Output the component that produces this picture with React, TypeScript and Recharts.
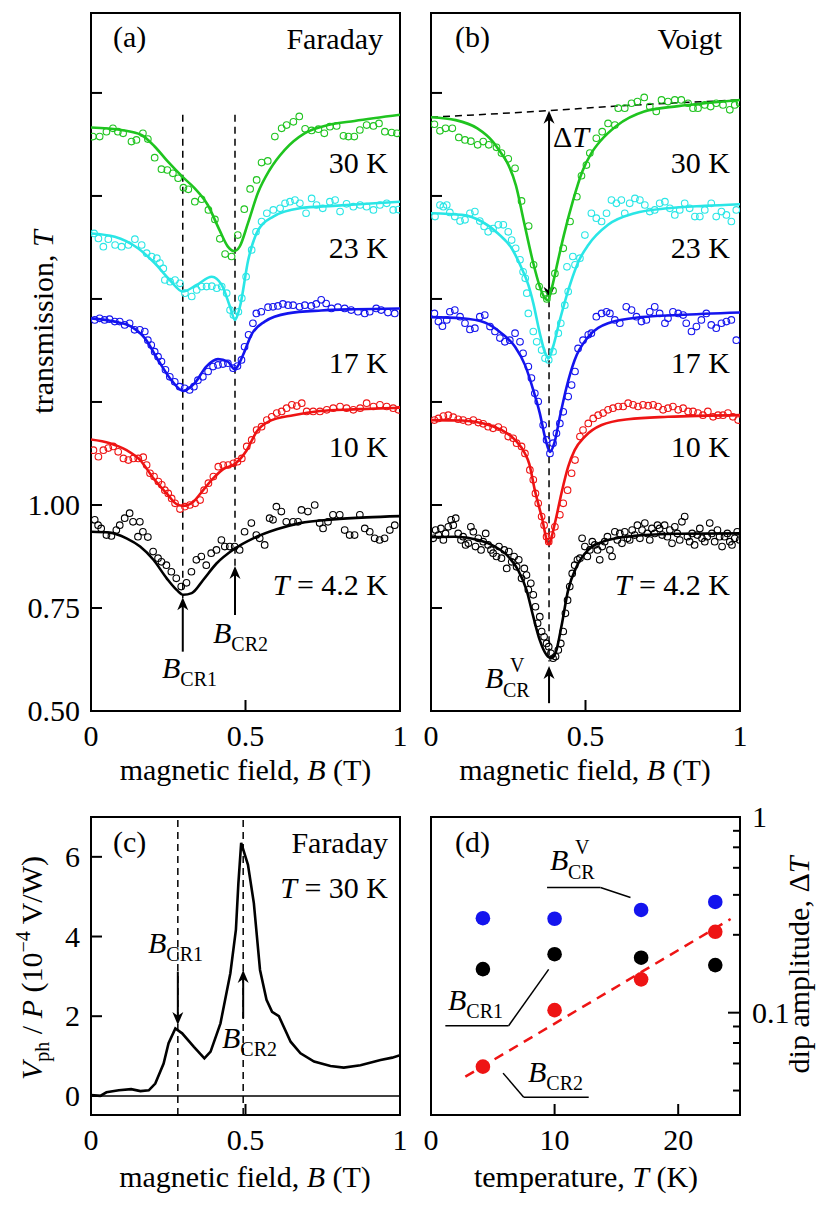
import React from "react";
import { ComposedChart, Scatter, Line, XAxis, YAxis, ReferenceLine, ReferenceArea } from "recharts";

// ---------- data: [B (T), transmission] ----------
const faraday30 = [[0.006,1.894],[0.028,1.894],[0.05,1.906],[0.071,1.914],[0.087,1.906],[0.104,1.902],[0.131,1.882],[0.147,1.886],[0.168,1.902],[0.184,1.888],[0.206,1.843],[0.228,1.815],[0.247,1.813],[0.265,1.805],[0.282,1.793],[0.299,1.77],[0.315,1.766],[0.336,1.736],[0.358,1.742],[0.38,1.716],[0.401,1.693],[0.417,1.646],[0.434,1.609],[0.455,1.603],[0.475,1.655],[0.496,1.718],[0.515,1.767],[0.536,1.789],[0.552,1.831],[0.572,1.835],[0.595,1.894],[0.617,1.914],[0.633,1.922],[0.655,1.93],[0.674,1.943],[0.693,1.913],[0.714,1.909],[0.736,1.912],[0.755,1.902],[0.773,1.918],[0.795,1.92],[0.817,1.896],[0.833,1.894],[0.852,1.894],[0.87,1.91],[0.892,1.922],[0.914,1.92],[0.932,1.926],[0.951,1.906],[0.973,1.904],[0.99,1.902]];
const faraday30Fit = [[0,1.916],[0.098,1.91],[0.163,1.898],[0.206,1.87],[0.249,1.833],[0.298,1.795],[0.335,1.769],[0.378,1.728],[0.416,1.667],[0.443,1.627],[0.463,1.616],[0.481,1.627],[0.508,1.684],[0.54,1.757],[0.578,1.813],[0.627,1.862],[0.691,1.902],[0.767,1.922],[0.853,1.932],[1,1.947]];
const faraday23 = [[0.01,1.659],[0.024,1.647],[0.04,1.627],[0.056,1.645],[0.078,1.631],[0.099,1.627],[0.121,1.631],[0.142,1.645],[0.164,1.631],[0.18,1.611],[0.196,1.603],[0.213,1.599],[0.223,1.587],[0.234,1.574],[0.239,1.546],[0.256,1.542],[0.272,1.546],[0.288,1.538],[0.304,1.514],[0.326,1.506],[0.342,1.522],[0.358,1.53],[0.374,1.53],[0.391,1.531],[0.407,1.526],[0.423,1.53],[0.439,1.514],[0.45,1.473],[0.461,1.461],[0.477,1.469],[0.488,1.502],[0.502,1.554],[0.52,1.619],[0.534,1.663],[0.552,1.688],[0.569,1.708],[0.59,1.716],[0.612,1.72],[0.628,1.732],[0.644,1.736],[0.66,1.74],[0.676,1.732],[0.696,1.708],[0.714,1.744],[0.73,1.728],[0.75,1.72],[0.773,1.736],[0.79,1.74],[0.806,1.712],[0.827,1.731],[0.849,1.724],[0.871,1.728],[0.892,1.724],[0.914,1.716],[0.935,1.728],[0.957,1.732],[0.978,1.716],[0.995,1.717]];
const faraday23Fit = [[0,1.659],[0.077,1.651],[0.152,1.623],[0.206,1.587],[0.255,1.546],[0.297,1.518],[0.342,1.534],[0.391,1.554],[0.423,1.534],[0.45,1.481],[0.466,1.449],[0.482,1.481],[0.509,1.595],[0.541,1.667],[0.59,1.7],[0.676,1.72],[0.784,1.726],[0.892,1.731],[1,1.736]];
const faraday17 = [[0.012,1.449],[0.028,1.453],[0.044,1.449],[0.06,1.451],[0.077,1.445],[0.093,1.445],[0.109,1.437],[0.125,1.441],[0.141,1.425],[0.158,1.425],[0.174,1.421],[0.184,1.4],[0.195,1.388],[0.206,1.372],[0.217,1.36],[0.228,1.348],[0.241,1.328],[0.255,1.311],[0.271,1.299],[0.287,1.287],[0.303,1.283],[0.319,1.279],[0.333,1.287],[0.346,1.303],[0.362,1.311],[0.379,1.324],[0.395,1.336],[0.411,1.34],[0.427,1.342],[0.443,1.344],[0.46,1.332],[0.474,1.337],[0.487,1.352],[0.497,1.384],[0.51,1.413],[0.524,1.441],[0.535,1.465],[0.551,1.469],[0.573,1.48],[0.589,1.481],[0.605,1.483],[0.621,1.488],[0.638,1.485],[0.654,1.485],[0.675,1.481],[0.692,1.485],[0.713,1.483],[0.729,1.488],[0.745,1.498],[0.761,1.489],[0.778,1.477],[0.799,1.48],[0.821,1.477],[0.842,1.473],[0.864,1.469],[0.886,1.465],[0.902,1.469],[0.923,1.477],[0.939,1.473],[0.961,1.467],[0.983,1.465]];
const faraday17Fit = [[0,1.453],[0.077,1.445],[0.13,1.433],[0.174,1.405],[0.217,1.352],[0.26,1.303],[0.298,1.277],[0.335,1.295],[0.373,1.336],[0.411,1.354],[0.443,1.348],[0.465,1.329],[0.492,1.364],[0.519,1.413],[0.562,1.445],[0.637,1.465],[0.745,1.472],[0.853,1.475],[1,1.477]];
const faraday10 = [[0.008,1.133],[0.024,1.117],[0.04,1.133],[0.056,1.138],[0.072,1.142],[0.088,1.129],[0.105,1.113],[0.121,1.109],[0.137,1.113],[0.153,1.113],[0.169,1.116],[0.18,1.097],[0.191,1.077],[0.204,1.069],[0.218,1.057],[0.229,1.049],[0.239,1.036],[0.25,1.028],[0.261,1.016],[0.272,1.004],[0.288,0.99],[0.304,0.996],[0.32,1],[0.337,1.004],[0.353,1.012],[0.366,1.036],[0.38,1.053],[0.396,1.069],[0.412,1.093],[0.428,1.097],[0.444,1.097],[0.461,1.101],[0.474,1.105],[0.488,1.113],[0.504,1.142],[0.52,1.158],[0.536,1.182],[0.552,1.19],[0.569,1.206],[0.585,1.214],[0.601,1.223],[0.617,1.227],[0.633,1.235],[0.65,1.243],[0.666,1.24],[0.682,1.247],[0.698,1.227],[0.719,1.227],[0.741,1.227],[0.763,1.231],[0.784,1.235],[0.806,1.239],[0.827,1.235],[0.849,1.231],[0.871,1.235],[0.892,1.247],[0.914,1.239],[0.935,1.243],[0.957,1.239],[0.978,1.235],[0.995,1.231]];
const faraday10Fit = [[0,1.159],[0.061,1.15],[0.115,1.133],[0.159,1.109],[0.202,1.065],[0.245,1.028],[0.277,1.002],[0.299,0.998],[0.331,1.008],[0.363,1.036],[0.396,1.065],[0.428,1.087],[0.466,1.1],[0.504,1.133],[0.536,1.178],[0.579,1.204],[0.655,1.218],[0.741,1.228],[0.849,1.232],[1,1.236]];
const faraday4 = [[0.012,0.964],[0.023,0.951],[0.033,0.943],[0.05,0.927],[0.066,0.925],[0.082,0.939],[0.093,0.951],[0.109,0.968],[0.125,0.98],[0.136,0.959],[0.152,0.923],[0.158,0.959],[0.168,0.935],[0.184,0.922],[0.201,0.887],[0.217,0.871],[0.228,0.862],[0.244,0.854],[0.26,0.838],[0.276,0.822],[0.292,0.802],[0.309,0.811],[0.325,0.838],[0.341,0.867],[0.357,0.875],[0.373,0.854],[0.389,0.883],[0.406,0.891],[0.422,0.915],[0.433,0.899],[0.449,0.899],[0.465,0.899],[0.481,0.891],[0.497,0.935],[0.519,0.956],[0.535,0.927],[0.546,0.919],[0.562,0.903],[0.578,0.968],[0.589,0.964],[0.6,0.996],[0.616,0.984],[0.632,0.959],[0.654,0.959],[0.67,0.959],[0.681,0.988],[0.702,0.984],[0.724,1],[0.74,0.956],[0.751,0.943],[0.767,0.959],[0.783,0.976],[0.805,0.976],[0.821,0.939],[0.837,0.927],[0.853,0.927],[0.87,0.976],[0.886,0.943],[0.902,0.935],[0.918,0.919],[0.934,0.915],[0.95,0.919],[0.967,0.939],[0.983,0.951]];
const faraday4Fit = [[0,0.935],[0.061,0.933],[0.115,0.919],[0.159,0.899],[0.202,0.867],[0.245,0.822],[0.277,0.794],[0.299,0.782],[0.326,0.786],[0.363,0.818],[0.406,0.858],[0.461,0.892],[0.525,0.919],[0.601,0.941],[0.676,0.956],[0.784,0.965],[0.892,0.97],[1,0.973]];

const voigt30 = [[0.011,1.924],[0.029,1.908],[0.047,1.914],[0.069,1.914],[0.09,1.892],[0.11,1.886],[0.129,1.883],[0.151,1.874],[0.169,1.882],[0.187,1.874],[0.212,1.868],[0.228,1.854],[0.25,1.84],[0.272,1.817],[0.293,1.738],[0.316,1.677],[0.332,1.583],[0.35,1.53],[0.365,1.51],[0.375,1.5],[0.395,1.52],[0.401,1.562],[0.428,1.623],[0.45,1.688],[0.472,1.748],[0.487,1.799],[0.503,1.825],[0.514,1.854],[0.535,1.89],[0.554,1.906],[0.573,1.926],[0.595,1.922],[0.606,1.963],[0.627,1.963],[0.649,1.975],[0.668,1.979],[0.69,1.989],[0.708,1.967],[0.729,1.955],[0.746,1.983],[0.767,1.979],[0.789,1.983],[0.81,1.983],[0.832,1.975],[0.848,1.963],[0.864,1.963],[0.886,1.971],[0.905,1.967],[0.923,1.975],[0.945,1.971],[0.967,1.959],[0.983,1.971],[0.999,1.975]];
const voigt30Fit = [[0,1.941],[0.08,1.934],[0.15,1.914],[0.2,1.882],[0.225,1.856],[0.25,1.826],[0.275,1.775],[0.3,1.69],[0.33,1.59],[0.35,1.535],[0.366,1.505],[0.378,1.497],[0.392,1.53],[0.41,1.59],[0.43,1.655],[0.46,1.74],[0.49,1.81],[0.52,1.855],[0.55,1.885],[0.6,1.92],[0.69,1.955],[0.8,1.968],[0.9,1.976],[1,1.983]];
const voigtBaseline = [[0,1.941],[0.38,1.957],[0.6,1.968],[1,1.983]];
const voigt23 = [[0.013,1.7],[0.029,1.728],[0.04,1.724],[0.051,1.728],[0.061,1.71],[0.077,1.7],[0.094,1.689],[0.11,1.692],[0.126,1.708],[0.142,1.712],[0.158,1.689],[0.172,1.676],[0.185,1.663],[0.201,1.671],[0.218,1.68],[0.234,1.68],[0.25,1.663],[0.261,1.643],[0.274,1.623],[0.288,1.595],[0.298,1.566],[0.305,1.55],[0.31,1.514],[0.315,1.465],[0.331,1.421],[0.342,1.396],[0.358,1.376],[0.369,1.356],[0.381,1.352],[0.395,1.372],[0.412,1.417],[0.42,1.441],[0.433,1.485],[0.444,1.518],[0.44,1.578],[0.459,1.603],[0.466,1.583],[0.482,1.599],[0.498,1.655],[0.519,1.708],[0.535,1.696],[0.552,1.688],[0.568,1.708],[0.584,1.74],[0.6,1.732],[0.616,1.74],[0.627,1.708],[0.643,1.732],[0.66,1.744],[0.676,1.74],[0.692,1.728],[0.708,1.712],[0.724,1.716],[0.74,1.732],[0.757,1.736],[0.773,1.72],[0.789,1.704],[0.805,1.716],[0.821,1.732],[0.837,1.72],[0.854,1.7],[0.87,1.7],[0.886,1.716],[0.907,1.732],[0.923,1.7],[0.94,1.712],[0.956,1.704],[0.972,1.688],[0.988,1.716]];
const voigt23Fit = [[0,1.708],[0.1,1.704],[0.164,1.688],[0.217,1.659],[0.261,1.623],[0.293,1.575],[0.315,1.534],[0.331,1.49],[0.352,1.417],[0.368,1.372],[0.381,1.356],[0.395,1.384],[0.417,1.449],[0.45,1.535],[0.48,1.595],[0.509,1.631],[0.573,1.68],[0.659,1.708],[0.767,1.72],[0.886,1.726],[1,1.73]];
const voigt17 = [[0.011,1.465],[0.024,1.445],[0.037,1.434],[0.051,1.449],[0.061,1.469],[0.077,1.473],[0.094,1.457],[0.11,1.441],[0.126,1.426],[0.142,1.429],[0.158,1.457],[0.174,1.461],[0.191,1.433],[0.207,1.421],[0.223,1.405],[0.239,1.396],[0.255,1.4],[0.272,1.417],[0.288,1.396],[0.298,1.368],[0.315,1.336],[0.325,1.308],[0.336,1.271],[0.347,1.251],[0.363,1.194],[0.374,1.158],[0.385,1.125],[0.395,1.15],[0.406,1.174],[0.417,1.198],[0.428,1.226],[0.444,1.263],[0.455,1.291],[0.466,1.324],[0.476,1.38],[0.492,1.4],[0.509,1.413],[0.519,1.417],[0.535,1.457],[0.552,1.465],[0.568,1.469],[0.579,1.465],[0.595,1.449],[0.611,1.441],[0.632,1.481],[0.649,1.473],[0.665,1.457],[0.681,1.445],[0.697,1.449],[0.708,1.469],[0.724,1.481],[0.74,1.465],[0.757,1.441],[0.767,1.453],[0.783,1.469],[0.8,1.465],[0.816,1.461],[0.826,1.441],[0.843,1.421],[0.859,1.433],[0.875,1.449],[0.891,1.465],[0.907,1.437],[0.923,1.429],[0.94,1.441],[0.956,1.445],[0.972,1.449],[0.988,1.4]];
const voigt17Fit = [[0,1.456],[0.1,1.453],[0.174,1.443],[0.228,1.417],[0.272,1.384],[0.304,1.34],[0.331,1.279],[0.352,1.223],[0.371,1.158],[0.385,1.129],[0.399,1.15],[0.417,1.214],[0.439,1.287],[0.465,1.352],[0.509,1.408],[0.573,1.441],[0.681,1.456],[0.8,1.461],[1,1.467]];
const voigt10 = [[0.011,1.206],[0.024,1.21],[0.04,1.216],[0.056,1.218],[0.072,1.213],[0.088,1.208],[0.104,1.206],[0.121,1.202],[0.137,1.206],[0.153,1.2],[0.169,1.197],[0.185,1.19],[0.201,1.186],[0.218,1.189],[0.234,1.182],[0.25,1.166],[0.266,1.162],[0.277,1.15],[0.293,1.142],[0.304,1.125],[0.32,1.085],[0.331,1.061],[0.338,1.028],[0.347,1.004],[0.358,0.972],[0.366,0.951],[0.374,0.923],[0.381,0.911],[0.39,0.927],[0.401,0.947],[0.417,0.976],[0.428,1.004],[0.442,1.036],[0.455,1.077],[0.466,1.109],[0.482,1.166],[0.492,1.182],[0.509,1.198],[0.525,1.21],[0.541,1.218],[0.557,1.223],[0.573,1.231],[0.589,1.235],[0.606,1.239],[0.622,1.239],[0.638,1.247],[0.654,1.243],[0.67,1.239],[0.686,1.243],[0.703,1.241],[0.719,1.243],[0.735,1.239],[0.751,1.231],[0.767,1.235],[0.783,1.239],[0.8,1.231],[0.816,1.235],[0.832,1.227],[0.848,1.227],[0.864,1.223],[0.88,1.218],[0.896,1.227],[0.913,1.214],[0.929,1.218],[0.945,1.218],[0.961,1.223],[0.977,1.214],[0.994,1.206]];
const voigt10Fit = [[0,1.206],[0.1,1.205],[0.174,1.197],[0.228,1.182],[0.272,1.158],[0.304,1.125],[0.318,1.1],[0.336,1.036],[0.358,0.972],[0.381,0.905],[0.401,0.956],[0.422,1.028],[0.444,1.093],[0.465,1.133],[0.498,1.166],[0.552,1.194],[0.638,1.208],[0.767,1.214],[1,1.218]];
const voigt4 = [[0.007,0.919],[0.015,0.939],[0.024,0.927],[0.032,0.943],[0.04,0.915],[0.047,0.931],[0.056,0.947],[0.065,0.964],[0.072,0.951],[0.08,0.968],[0.088,0.931],[0.097,0.915],[0.104,0.923],[0.112,0.903],[0.121,0.907],[0.129,0.947],[0.137,0.935],[0.144,0.899],[0.153,0.919],[0.162,0.891],[0.169,0.911],[0.177,0.931],[0.185,0.903],[0.194,0.891],[0.201,0.883],[0.212,0.875],[0.22,0.899],[0.228,0.871],[0.237,0.891],[0.245,0.846],[0.252,0.887],[0.261,0.862],[0.269,0.875],[0.277,0.85],[0.284,0.867],[0.293,0.822],[0.302,0.846],[0.309,0.83],[0.315,0.794],[0.323,0.81],[0.331,0.782],[0.338,0.753],[0.345,0.713],[0.352,0.729],[0.358,0.693],[0.366,0.68],[0.374,0.664],[0.381,0.656],[0.388,0.64],[0.395,0.628],[0.403,0.632],[0.412,0.648],[0.42,0.664],[0.428,0.693],[0.435,0.737],[0.442,0.769],[0.449,0.802],[0.457,0.834],[0.465,0.854],[0.474,0.867],[0.482,0.871],[0.489,0.919],[0.498,0.899],[0.506,0.875],[0.514,0.891],[0.522,0.911],[0.53,0.903],[0.539,0.891],[0.546,0.867],[0.554,0.899],[0.562,0.911],[0.571,0.923],[0.579,0.891],[0.586,0.875],[0.595,0.935],[0.603,0.915],[0.611,0.931],[0.618,0.907],[0.627,0.935],[0.636,0.919],[0.643,0.915],[0.651,0.939],[0.659,0.927],[0.668,0.951],[0.676,0.919],[0.683,0.939],[0.692,0.956],[0.7,0.931],[0.708,0.915],[0.715,0.943],[0.724,0.931],[0.733,0.951],[0.74,0.943],[0.748,0.927],[0.756,0.951],[0.765,0.923],[0.773,0.939],[0.78,0.907],[0.789,0.947],[0.797,0.931],[0.805,0.915],[0.812,0.959],[0.821,0.972],[0.83,0.923],[0.837,0.911],[0.845,0.931],[0.853,0.903],[0.862,0.927],[0.87,0.943],[0.877,0.919],[0.886,0.911],[0.894,0.923],[0.902,0.956],[0.909,0.931],[0.918,0.911],[0.927,0.939],[0.934,0.923],[0.942,0.899],[0.95,0.923],[0.959,0.931],[0.967,0.911],[0.974,0.903],[0.983,0.919],[0.991,0.935],[0.999,0.915]];
const voigt4Fit = [[0,0.922],[0.077,0.923],[0.153,0.915],[0.207,0.899],[0.25,0.875],[0.282,0.842],[0.309,0.794],[0.331,0.729],[0.352,0.672],[0.374,0.636],[0.39,0.628],[0.406,0.648],[0.422,0.705],[0.444,0.794],[0.471,0.85],[0.509,0.891],[0.573,0.915],[0.659,0.925],[0.8,0.93],[1,0.931]];

// photovoltage, [B (T), Vph/P (1e-4 V/W)]
const photoSignal = [[0,0.02],[0.03,0],[0.05,0.09],[0.09,0.14],[0.13,0.17],[0.16,0.12],[0.187,0.14],[0.208,0.31],[0.235,0.81],[0.251,1.32],[0.273,1.69],[0.295,1.57],[0.333,1.23],[0.367,0.94],[0.387,1.11],[0.419,1.82],[0.451,3.08],[0.469,4.17],[0.477,5.34],[0.486,6.35],[0.508,5.8],[0.527,4.84],[0.547,3.16],[0.568,2.41],[0.586,2.11],[0.608,2.0],[0.646,1.36],[0.678,1.07],[0.722,0.86],[0.775,0.75],[0.818,0.71],[0.872,0.77],[0.937,0.9],[0.975,0.96],[1,1.02]];

// dip amplitude vs temperature
const temps = [4.2, 10, 17, 23];
const dipVoigt = [0.304, 0.302, 0.335, 0.368];
const dipCR1 = [0.167, 0.199, 0.191, 0.175];
const dipCR2 = [0.053, 0.103, 0.148, 0.259];
const dipCR2Fit = [[2.78, 0.0471], [24.24, 0.301]];

const transTicks = [0.5, 0.75, 1, 1.25, 1.5, 1.75, 2];
const fieldTicks = [0, 0.5, 1];
const photoTicks = [0, 2, 4, 6];
const tempTicks = [0, 10, 20];
const dipTicks = [0.04, 0.055, 0.07, 0.085, 0.1, 0.25, 0.4, 0.55, 0.7, 0.85, 1];

// ---------- styling ----------
const SERIF = "'Liberation Serif', 'Times New Roman', Times, serif";
const FS = 30;
const GREEN = "#1fc41f";
const CYAN = "#2ae6e6";
const BLUE = "#1414ee";
const RED = "#ee1414";
const BLACK = "#000000";

const pts = (a: number[][]) => a.map(([x, y]) => ({ x, y }));
const zipPts = (xs: number[], ys: number[]) => xs.map((x, i) => ({ x, y: ys[i] }));

const ring = (color: string) => (p: any) => (
  <circle cx={p.cx} cy={p.cy} r={3.3} fill="none" stroke={color} strokeWidth={1.1} />
);
const dot = (color: string) => (p: any) => <circle cx={p.cx} cy={p.cy} r={7.3} fill={color} />;

const bottomTick = (fmt: (v: number) => string) => (p: any) => (
  <g>
    <line x1={p.x} y1={p.y} x2={p.x} y2={p.y - 11} stroke="#000" strokeWidth={2} />
    <text x={p.x} y={p.y + 35} textAnchor="middle" fontFamily={SERIF} fontSize={FS} fill="#000">
      {fmt(p.payload.value)}
    </text>
  </g>
);
const leftTick = (fmt: (v: number) => string) => (p: any) => (
  <g>
    <line x1={p.x} y1={p.y} x2={p.x + 11} y2={p.y} stroke="#000" strokeWidth={2} />
    <text x={p.x - 11} y={p.y + 10} textAnchor="end" fontFamily={SERIF} fontSize={FS} fill="#000">
      {fmt(p.payload.value)}
    </text>
  </g>
);
const rightLogTick = (p: any) => {
  const v = p.payload.value;
  const major = v === 1 || v === 0.1;
  return (
    <g>
      <line x1={p.x} y1={p.y} x2={p.x - (major ? 12 : 7)} y2={p.y} stroke="#000" strokeWidth={2} />
      {major && (
        <text x={p.x + 12} y={p.y + 10} fontFamily={SERIF} fontSize={FS} fill="#000">
          {v === 1 ? "1" : "0.1"}
        </text>
      )}
    </g>
  );
};

const arrowShape = (both: boolean) => (p: any) => {
  const { x1, y1, x2, y2 } = p;
  const a = Math.atan2(y2 - y1, x2 - x1);
  const c = Math.cos(a);
  const s = Math.sin(a);
  const head = (x: number, y: number, cc: number, ss: number) => {
    const L = 13, Wd = 5.5;
    const bx = x - L * cc, by = y - L * ss;
    const nx = x - L * 0.7 * cc, ny = y - L * 0.7 * ss;
    return `${x},${y} ${bx + Wd * ss},${by - Wd * cc} ${nx},${ny} ${bx - Wd * ss},${by + Wd * cc}`;
  };
  return (
    <g>
      <line
        x1={both ? x1 + 8 * c : x1}
        y1={both ? y1 + 8 * s : y1}
        x2={x2 - 8 * c}
        y2={y2 - 8 * s}
        stroke="#000"
        strokeWidth={2}
      />
      <polygon points={head(x2, y2, c, s)} fill="#000" />
      {both && <polygon points={head(x1, y1, -c, -s)} fill="#000" />}
    </g>
  );
};

const axisCommon = {
  type: "number" as const,
  allowDataOverflow: true,
  tickLine: false,
  axisLine: false,
  tickSize: 0,
  tickMargin: 0,
  interval: 0 as const,
};

const fmtTrans = (v: number) => (v <= 1 ? v.toFixed(2) : "");
const noLabel = () => "";

function Layer({ children }: { children: React.ReactNode }) {
  return <div style={{ position: "absolute", left: 0, top: 0 }}>{children}</div>;
}

const W = 830;
const H = 1215;
const T_TOP = 2.194;

function TransmissionPanel({
  left,
  right,
  yFmt,
  series,
  extra,
}: {
  left: number;
  right: number;
  yFmt: (v: number) => string;
  series: [number[][], number[][], string][];
  extra: React.ReactNode[];
}) {
  return (
    <ComposedChart width={W} height={H} margin={{ top: 13, right: W - right, bottom: 464, left: left - 20 }}>
      <XAxis dataKey="x" {...axisCommon} domain={[0, 1]} ticks={fieldTicks} height={40} tick={bottomTick(String)} />
      <YAxis dataKey="y" {...axisCommon} domain={[0.5, T_TOP]} ticks={transTicks} width={20} tick={leftTick(yFmt)} />
      <ReferenceArea x1={0} x2={1} y1={0.5} y2={T_TOP} fill="none" stroke="#000" strokeWidth={2} ifOverflow="visible" />
      {extra}
      {series.map(([d, , col], i) => (
        <Scatter key={"s" + i} data={pts(d)} shape={ring(col)} isAnimationActive={false} />
      ))}
      {series.map(([, f, col], i) => (
        <Line key={"l" + i} data={pts(f)} dataKey="y" type="monotone" stroke={col} strokeWidth={2.6} dot={false} isAnimationActive={false} />
      ))}
    </ComposedChart>
  );
}

const faradaySeries: [number[][], number[][], string][] = [
  [faraday30, faraday30Fit, GREEN],
  [faraday23, faraday23Fit, CYAN],
  [faraday17, faraday17Fit, BLUE],
  [faraday10, faraday10Fit, RED],
  [faraday4, faraday4Fit, BLACK],
];
const voigtSeries: [number[][], number[][], string][] = [
  [voigt30, voigt30Fit, GREEN],
  [voigt23, voigt23Fit, CYAN],
  [voigt17, voigt17Fit, BLUE],
  [voigt10, voigt10Fit, RED],
  [voigt4, voigt4Fit, BLACK],
];

const dash = { stroke: "#000", strokeWidth: 1.5, strokeDasharray: "7 5", ifOverflow: "visible" as const };

function Bsub({ x, y, sub }: { x: number; y: number; sub: string }) {
  return (
    <text x={x} y={y}>
      <tspan fontStyle="italic">B</tspan>
      <tspan fontSize={20} dy={8}>{sub}</tspan>
    </text>
  );
}
function BV({ x, y }: { x: number; y: number }) {
  return (
    <g>
      <text x={x} y={y} fontStyle="italic">B</text>
      <text x={x + 25} y={y - 16} fontSize={20}>V</text>
      <text x={x + 18} y={y + 9} fontSize={20}>CR</text>
    </g>
  );
}
function TempLabels({ right }: { right: number }) {
  return (
    <g textAnchor="end">
      <text x={right} y={173}>30 K</text>
      <text x={right} y={258}>23 K</text>
      <text x={right} y={373}>17 K</text>
      <text x={right} y={457}>10 K</text>
      <text x={right} y={595}>
        <tspan fontStyle="italic">T</tspan> = 4.2 K
      </text>
    </g>
  );
}

export default function App() {
  return (
    <div style={{ position: "absolute", left: 0, top: 0, width: W, height: H, background: "#fff" }}>
      {/* (a) Faraday */}
      <Layer>
        <TransmissionPanel
          left={91}
          right={400}
          yFmt={fmtTrans}
          series={faradaySeries}
          extra={[
            <ReferenceLine key="d1" segment={[{ x: 0.297, y: 1.947 }, { x: 0.297, y: 0.774 }]} {...dash} />,
            <ReferenceLine key="d2" segment={[{ x: 0.466, y: 1.947 }, { x: 0.466, y: 0.85 }]} {...dash} />,
            <ReferenceLine key="a1" segment={[{ x: 0.297, y: 0.644 }, { x: 0.297, y: 0.776 }]} shape={arrowShape(false)} ifOverflow="visible" />,
            <ReferenceLine key="a2" segment={[{ x: 0.466, y: 0.733 }, { x: 0.466, y: 0.852 }]} shape={arrowShape(false)} ifOverflow="visible" />,
          ]}
        />
      </Layer>
      {/* (b) Voigt */}
      <Layer>
        <TransmissionPanel
          left={431}
          right={740}
          yFmt={noLabel}
          series={voigtSeries}
          extra={[
            <Line key="base" data={pts(voigtBaseline)} dataKey="y" type="monotone" stroke="#000" strokeWidth={1.5} strokeDasharray="7 5" dot={false} isAnimationActive={false} />,
            <ReferenceLine key="d1" segment={[{ x: 0.382, y: 1.497 }, { x: 0.382, y: 0.62 }]} {...dash} />,
            <ReferenceLine key="dt" segment={[{ x: 0.382, y: 1.957 }, { x: 0.382, y: 1.498 }]} shape={arrowShape(true)} ifOverflow="visible" />,
            <ReferenceLine key="a1" segment={[{ x: 0.382, y: 0.519 }, { x: 0.382, y: 0.609 }]} shape={arrowShape(false)} ifOverflow="visible" />,
          ]}
        />
      </Layer>
      {/* (c) photovoltage */}
      <Layer>
        <ComposedChart width={W} height={H} margin={{ top: 817, right: W - 400, bottom: 60, left: 41 }}>
          <XAxis dataKey="x" {...axisCommon} domain={[0, 1]} ticks={fieldTicks} height={40} tick={bottomTick(String)} />
          <YAxis dataKey="y" {...axisCommon} domain={[-0.48, 7]} ticks={photoTicks} width={50} tick={leftTick(String)} />
          <ReferenceArea x1={0} x2={1} y1={-0.48} y2={7} fill="none" stroke="#000" strokeWidth={2} ifOverflow="visible" />
          <ReferenceLine y={0} stroke="#000" strokeWidth={1.5} />
          <ReferenceLine x={0.281} {...dash} />
          <ReferenceLine x={0.4925} {...dash} />
          <Line data={pts(photoSignal)} dataKey="y" type="linear" stroke="#000" strokeWidth={2.6} dot={false} isAnimationActive={false} />
          <ReferenceLine segment={[{ x: 0.281, y: 3.12 }, { x: 0.281, y: 1.78 }]} shape={arrowShape(false)} ifOverflow="visible" />
          <ReferenceLine segment={[{ x: 0.4925, y: 1.95 }, { x: 0.4925, y: 3.16 }]} shape={arrowShape(false)} ifOverflow="visible" />
        </ComposedChart>
      </Layer>
      {/* (d) dip amplitude */}
      <Layer>
        <ComposedChart width={W} height={H} margin={{ top: 817, right: W - 740 - 40, bottom: 60, left: 431 }}>
          <XAxis dataKey="x" {...axisCommon} domain={[0, 25]} ticks={tempTicks} height={40} tick={bottomTick(String)} />
          <YAxis dataKey="y" {...axisCommon} orientation="right" scale="log" domain={[0.03, 1]} ticks={dipTicks} width={40} tick={rightLogTick} />
          <ReferenceArea x1={0} x2={25} y1={0.03} y2={1} fill="none" stroke="#000" strokeWidth={2} ifOverflow="visible" />
          <Line data={pts(dipCR2Fit)} dataKey="y" type="linear" stroke={RED} strokeWidth={2.5} strokeDasharray="10 7" dot={false} isAnimationActive={false} />
          <ReferenceLine segment={[{ x: 9.39, y: 0.436 }, { x: 13.71, y: 0.436 }]} stroke="#000" strokeWidth={1.5} />
          <ReferenceLine segment={[{ x: 13.71, y: 0.436 }, { x: 16.14, y: 0.388 }]} stroke="#000" strokeWidth={1.5} />
          <ReferenceLine segment={[{ x: 1.16, y: 0.0858 }, { x: 6.28, y: 0.0858 }]} stroke="#000" strokeWidth={1.5} />
          <ReferenceLine segment={[{ x: 6.28, y: 0.0858 }, { x: 9.52, y: 0.1665 }]} stroke="#000" strokeWidth={1.5} />
          <ReferenceLine segment={[{ x: 5.83, y: 0.0491 }, { x: 7.5, y: 0.037 }]} stroke="#000" strokeWidth={1.5} />
          <ReferenceLine segment={[{ x: 7.5, y: 0.037 }, { x: 12.76, y: 0.037 }]} stroke="#000" strokeWidth={1.5} />
          <Scatter data={zipPts(temps, dipVoigt)} shape={dot(BLUE)} isAnimationActive={false} />
          <Scatter data={zipPts(temps, dipCR1)} shape={dot(BLACK)} isAnimationActive={false} />
          <Scatter data={zipPts(temps, dipCR2)} shape={dot(RED)} isAnimationActive={false} />
        </ComposedChart>
      </Layer>

      {/* text annotations */}
      <svg width={W} height={H} style={{ position: "absolute", left: 0, top: 0, pointerEvents: "none" }} fontFamily={SERIF} fontSize={FS} fill="#000">
        <text x={113} y={47}>(a)</text>
        <text x={383} y={49} textAnchor="end">Faraday</text>
        <TempLabels right={388} />
        <Bsub x={162} y={678} sub="CR1" />
        <Bsub x={213} y={643} sub="CR2" />
        <text x={245.5} y={780} textAnchor="middle">
          magnetic field, <tspan fontStyle="italic">B</tspan> (T)
        </text>
        <text transform="translate(53,322) rotate(-90)" textAnchor="middle">
          transmission, <tspan fontStyle="italic">T</tspan>
        </text>

        <text x={455} y={47}>(b)</text>
        <text x={722} y={49} textAnchor="end">Voigt</text>
        <TempLabels right={730} />
        <text x={553} y={147}>
          Δ<tspan fontStyle="italic">T</tspan>
        </text>
        <BV x={485} y={688} />
        <text x={585} y={780} textAnchor="middle">
          magnetic field, <tspan fontStyle="italic">B</tspan> (T)
        </text>

        <text x={113} y={852}>(c)</text>
        <text x={388} y={853} textAnchor="end">Faraday</text>
        <text x={388} y={898} textAnchor="end">
          <tspan fontStyle="italic">T</tspan> = 30 K
        </text>
        <Bsub x={148} y={953} sub="CR1" />
        <Bsub x={222} y={1048} sub="CR2" />
        <text x={245} y={1187} textAnchor="middle">
          magnetic field, <tspan fontStyle="italic">B</tspan> (T)
        </text>
        <text transform="translate(42,968) rotate(-90)" textAnchor="middle">
          <tspan fontStyle="italic">V</tspan>
          <tspan fontSize={20} dy={7}>ph</tspan>
          <tspan dy={-7}> / </tspan>
          <tspan fontStyle="italic">P</tspan>
          <tspan> (10</tspan>
          <tspan fontSize={20} dy={-12}>−4</tspan>
          <tspan dy={12}> V/W)</tspan>
        </text>

        <text x={455} y={852}>(d)</text>
        <BV x={550} y={870} />
        <Bsub x={448} y={1010} sub="CR1" />
        <Bsub x={528} y={1082} sub="CR2" />
        <text x={586} y={1187} textAnchor="middle">
          temperature, <tspan fontStyle="italic">T</tspan> (K)
        </text>
        <text transform="translate(809,965) rotate(-90)" textAnchor="middle">
          dip amplitude, Δ<tspan fontStyle="italic">T</tspan>
        </text>
      </svg>
    </div>
  );
}
